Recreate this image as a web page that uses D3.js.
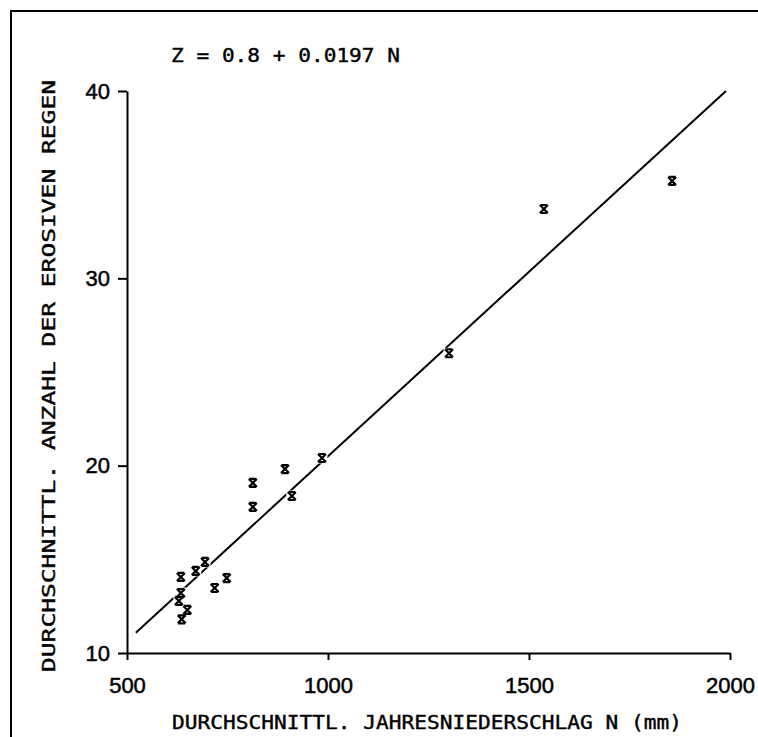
<!DOCTYPE html>
<html>
<head>
<meta charset="utf-8">
<script src="https://cdn.jsdelivr.net/npm/d3@7/dist/d3.min.js"></script>
<style>
  html, body { margin: 0; padding: 0; background: #fff; }
  svg { display: block; }
  text { fill: #000; }
  .mono { font-family: "DejaVu Sans Mono", "Liberation Mono", monospace; }
</style>
</head>
<body>
<svg id="chart" width="758" height="737"></svg>
<script>
// Mean annual precipitation N (mm) per station
const precipitation = [634, 634, 629, 650, 636, 671, 694, 718, 748, 813, 813, 893, 910, 985, 1301, 1537, 1856];
// Mean number of erosive rain events per station
const erosiveRains = [14.06, 13.2, 12.78, 12.3, 11.8, 14.38, 14.86, 13.47, 14.0, 19.08, 17.8, 19.82, 18.38, 20.41, 26.0, 33.7, 35.2];

// Regression line Z = a + b N
const intercept = 0.8;
const slope = 0.0197;
const fitRange = [522, 1990];

const xTicks = [500, 1000, 1500, 2000];
const yTicks = [10, 20, 30, 40];
const xDomain = [500, 2000];
const yDomain = [10, 40];

const xTitle = "DURCHSCHNITTL. JAHRESNIEDERSCHLAG N (mm)";
const yTitle = "DURCHSCHNITTL. ANZAHL DER EROSIVEN REGEN";
const equation = `Z = ${intercept} + ${slope} N`;

const svg = d3.select("#chart");

const x = d3.scaleLinear().domain(xDomain).range([127, 730]);
const y = d3.scaleLinear().domain(yDomain).range([653, 91]);

// Outer frame (top and left edges)
svg.append("path")
  .attr("d", "M11,737V11H758")
  .attr("fill", "none")
  .attr("stroke", "#000")
  .attr("stroke-width", 2);

// Axes
const xAxis = svg.append("g")
  .attr("transform", `translate(0,${y(yDomain[0])})`)
  .call(d3.axisBottom(x).tickValues(xTicks).tickFormat(d3.format("d"))
    .tickSize(7).tickPadding(17).tickSizeOuter(0));
const yAxis = svg.append("g")
  .attr("transform", `translate(${x(xDomain[0])},0)`)
  .call(d3.axisLeft(y).tickValues(yTicks).tickFormat(d3.format("d"))
    .tickSize(9).tickPadding(8).tickSizeOuter(0));

[xAxis, yAxis].forEach(g => {
  g.select(".domain").attr("stroke", "#000").attr("stroke-width", 2);
  g.selectAll(".tick line").attr("stroke", "#000").attr("stroke-width", 2);
  g.selectAll(".tick text")
    .attr("font-size", 22)
    .attr("font-family", "Liberation Sans, Arial, sans-serif")
    .attr("fill", "#000")
    .attr("stroke", "#000")
    .attr("stroke-width", 0.5);
});

// Regression line
const line = d3.line().x(d => x(d)).y(d => y(intercept + slope * d));
svg.append("path")
  .datum(fitRange)
  .attr("d", line)
  .attr("fill", "none")
  .attr("stroke", "#000")
  .attr("stroke-width", 2);

const pts = precipitation.map((n, i) => ({ n, z: erosiveRains[i] }));

// Plotter-style gaps in the line around each marker
svg.append("g").selectAll("rect")
  .data(pts)
  .join("rect")
  .attr("x", d => x(d.n) - 5.5)
  .attr("y", d => y(d.z) - 5.5)
  .attr("width", 11)
  .attr("height", 11)
  .attr("fill", "#fff");

// Markers
svg.append("g").selectAll("path")
  .data(pts)
  .join("path")
  .attr("transform", d => `translate(${x(d.n)},${y(d.z)})`)
  .attr("d", "M-4,-4L4,4M-4,4L4,-4M-3.5,-4H3.5M-3.5,4H3.5")
  .attr("fill", "none")
  .attr("stroke", "#000")
  .attr("stroke-width", 2.2);

// Equation
svg.append("text")
  .attr("class", "mono")
  .attr("x", 171)
  .attr("y", 62)
  .attr("font-size", 20)
  .attr("stroke", "#000")
  .attr("stroke-width", 0.4)
  .attr("textLength", 229)
  .attr("lengthAdjust", "spacingAndGlyphs")
  .text(equation);

// Axis titles
svg.append("text")
  .attr("class", "mono")
  .attr("x", 172)
  .attr("y", 729)
  .attr("font-size", 19)
  .attr("stroke", "#000")
  .attr("stroke-width", 0.4)
  .attr("textLength", 510)
  .attr("lengthAdjust", "spacingAndGlyphs")
  .text(xTitle);

svg.append("text")
  .attr("class", "mono")
  .attr("transform", "translate(55,672) rotate(-90)")
  .attr("font-size", 18)
  .attr("stroke", "#000")
  .attr("stroke-width", 0.4)
  .attr("textLength", 592)
  .attr("lengthAdjust", "spacingAndGlyphs")
  .text(yTitle);
</script>
</body>
</html>
